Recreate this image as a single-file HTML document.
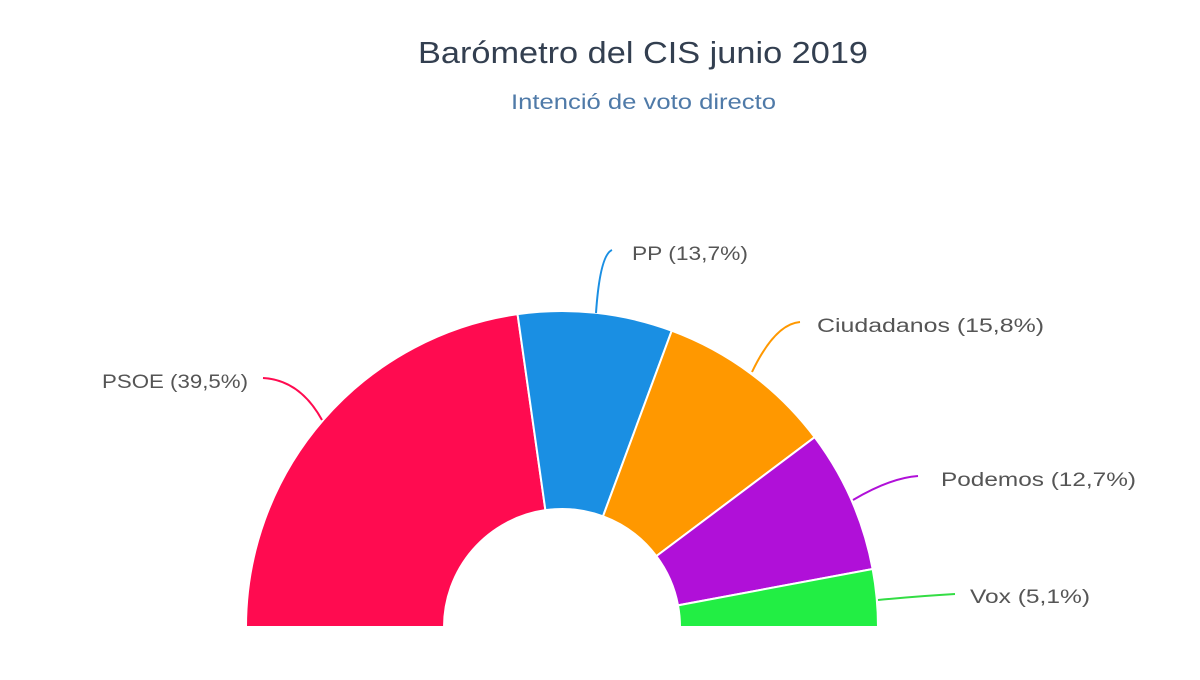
<!DOCTYPE html>
<html><head><meta charset="utf-8"><style>
body{margin:0;background:#fff;width:1200px;height:675px;overflow:hidden;font-family:"Liberation Sans",Arial,sans-serif}
</style></head><body>
<svg id="s" width="1200" height="675" xmlns="http://www.w3.org/2000/svg">
<text x="418" y="63" font-size="31" fill="#333f50" textLength="450" lengthAdjust="spacingAndGlyphs">Barómetro del CIS junio 2019</text>
<text x="511" y="109" font-size="21" fill="#4f7aa8" textLength="265" lengthAdjust="spacingAndGlyphs">Intenció de voto directo</text>
<g id="g"></g>
<g fill="none" stroke-width="2">
<path d="M263 378 Q300 380 322 420" stroke="#ff0b50"/>
<path d="M612 250 Q600 255 596 313" stroke="#1a8fe3"/>
<path d="M800 322 Q775 324 752 372" stroke="#ff9800"/>
<path d="M918 476 Q890 478 853 500" stroke="#b010d8"/>
<path d="M955 594 Q920 596 878 600" stroke="#33dd44"/>
</g>
<g font-size="19" fill="#555" lengthAdjust="spacingAndGlyphs">
<text x="102" y="388" textLength="146" lengthAdjust="spacingAndGlyphs">PSOE (39,5%)</text>
<text x="632" y="260" textLength="116" lengthAdjust="spacingAndGlyphs">PP (13,7%)</text>
<text x="817" y="332" textLength="227" lengthAdjust="spacingAndGlyphs">Ciudadanos (15,8%)</text>
<text x="941" y="486" textLength="195" lengthAdjust="spacingAndGlyphs">Podemos (12,7%)</text>
<text x="970" y="603" textLength="120" lengthAdjust="spacingAndGlyphs">Vox (5,1%)</text>
</g>
</svg>
<script>
var cx=562,cy=627,R=316,r=118;
var d=[[39.5,"#ff0b50"],[13.7,"#1a8fe3"],[15.8,"#ff9800"],[12.7,"#b010d8"],[5.1,"#22ee44"]];
var tot=d.reduce(function(a,b){return a+b[0]},0),a0=0,h="";
function p(rad,t){var a=t*Math.PI/180;return (cx-rad*Math.cos(a)).toFixed(2)+" "+(cy-rad*Math.sin(a)).toFixed(2);}
d.forEach(function(s){var a1=a0+s[0]/tot*180;
h+='<path d="M'+p(R,a0)+' A'+R+' '+R+' 0 0 1 '+p(R,a1)+' L'+p(r,a1)+' A'+r+' '+r+' 0 0 0 '+p(r,a0)+'Z" fill="'+s[1]+'" stroke="#fff" stroke-width="2"/>';a0=a1;});
document.getElementById("g").innerHTML=h;
</script>
</body></html>
